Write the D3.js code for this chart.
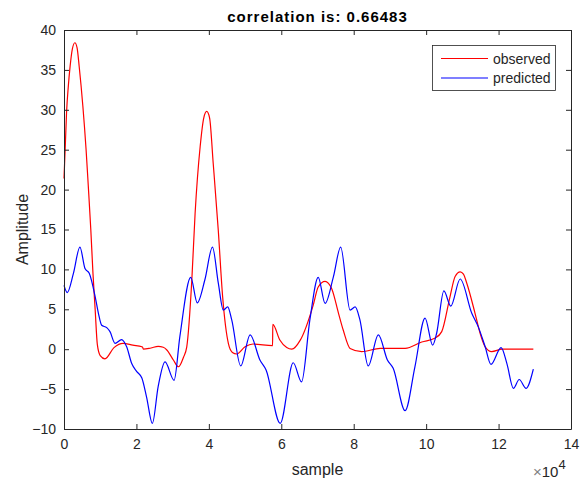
<!DOCTYPE html>
<html lang="en">
<head>
  <meta charset="UTF-8">
  <title>correlation</title>
  <style>
    body { margin: 0; background: #fff; }
    text { font-family: "Liberation Sans", Arial, sans-serif; fill: #262626; }
  </style>
</head>
<body>
  <svg id="chart" width="580" height="481"></svg>
<script src="https://cdn.jsdelivr.net/npm/d3@7"></script>
<script>
  // sample positions are in units of 1e4
  let observedX = [0, 0.04, 0.07, 0.12, 0.17, 0.23, 0.30, 0.36, 0.42, 0.52, 0.61, 0.67, 0.74, 0.80, 0.86, 0.92, 1.0, 1.13, 1.38, 1.63, 1.9, 2.15, 2.17, 2.19,
                   2.4, 2.6, 2.74, 2.84, 3.02, 3.16, 3.30, 3.39, 3.53, 3.62, 3.76, 3.86, 3.94, 4.02, 4.12, 4.26, 4.38, 4.54, 4.65, 4.77,
                   5.0, 5.22, 5.76, 5.765, 5.96, 6.15, 6.29, 6.52, 6.88, 7.02, 7.21, 7.39, 7.58, 7.71, 7.90, 8.22, 8.73, 9.42, 9.88,
                   10.25, 10.43, 10.66, 10.80, 10.94, 11.03, 11.12, 11.35, 11.49, 11.63, 11.81, 12.1, 12.96]
  let observedY = [21.4, 26, 29.6, 33, 35.5, 37.6, 38.4, 37.8, 35.4, 30.5, 25, 20.5, 15, 9.5, 5, 0.6, -0.8, -1.2, 0.2, 0.74, 0.5, 0.3, 0.25, 0.0,
                   0.15, 0.35, 0.24, -0.1, -1.35, -2.2, -1.0, 0.3, 8.7, 17, 25.4, 29.0, 29.8, 29.0, 23.3, 14.9, 6.6, 0.7, -0.4, -0.6,
                   0.3, 0.65, 0.45, 3.1, 1.15, 0.2, 0.0, 1.1, 5.5, 7.8, 8.5, 7.6, 4.5, 2.4, 0.1, -0.3, 0.1, 0.1, 0.9,
                   1.4, 2.2, 6.6, 9.1, 9.7, 9.4, 8.3, 4.5, 2.0, 0.3, -0.3, 0.0, 0.0]

  let predictedX = [0, 0.09, 0.26, 0.44, 0.58, 0.70, 0.86, 0.95, 1.04, 1.18, 1.27, 1.41, 1.59, 1.73, 1.87, 2.01, 2.15, 2.28, 2.44, 2.60, 2.79, 3.04,
                    3.20, 3.50, 3.68, 3.89, 4.10, 4.26, 4.40, 4.52, 4.63, 4.88, 5.14, 5.41, 5.58, 5.97, 6.33, 6.56, 6.79, 7.02, 7.21, 7.44,
                    7.64, 7.90, 8.04, 8.17, 8.40, 8.68, 8.93, 9.09, 9.42, 9.69, 9.97, 10.18, 10.29, 10.49, 10.68, 10.94, 11.26, 11.44, 11.63,
                    11.79, 12.07, 12.23, 12.41, 12.57, 12.76, 12.96]
  let predictedY = [8.0, 7.1, 9.5, 12.8, 10.1, 9.5, 6.6, 4.5, 3.0, 2.7, 2.2, 0.74, 1.2, 0.3, -1.8, -2.8, -3.6, -6, -9.3, -4.7, -1.6, -3.9,
                    1.6, 9.0, 5.8, 8.7, 12.8, 8.3, 4.9, 5.3, 3.7, -2.1, 1.8, -1.35, -2.6, -9.3, -1.7, -4.1, 3.7, 9.0, 5.75, 9.1,
                    12.8, 4.9, 5.3, 3.7, -2.1, 1.8, -1.35, -2.4, -7.7, -2.2, 3.9, 0.5, 2.0, 7.3, 5.4, 8.8, 4.5, 2.8, 0.3,
                    -1.9, 0.2, -1.8, -4.9, -3.8, -4.9, -2.5]

  let xTicks = [0, 2, 4, 6, 8, 10, 12, 14]
  let yTicks = [-10, -5, 0, 5, 10, 15, 20, 25, 30, 35, 40]

  let svg = d3.select("#chart")
  let plotLeft = 64, plotRight = 571, plotTop = 30, plotBottom = 429

  let x = d3.scaleLinear().domain([0, 14]).range([plotLeft, plotRight])
  let y = d3.scaleLinear().domain([-10, 40]).range([plotBottom, plotTop])

  let observed = observedX.map((v, i) => [v, observedY[i]])
  let predicted = predictedX.map((v, i) => [v, predictedY[i]])

  let line = d3.line()
               .x(d => x(d[0]))
               .y(d => y(d[1]))
               .curve(d3.curveMonotoneX)

  svg.append("path")
     .attr("d", line(observed))
     .attr("fill", "none")
     .attr("stroke", "#ff0000")
     .attr("stroke-width", 1.2)

  svg.append("path")
     .attr("d", line(predicted))
     .attr("fill", "none")
     .attr("stroke", "#0000ff")
     .attr("stroke-width", 1.2)

  // axes, ticks inward on all four sides
  let axisColor = "#262626"
  svg.append("g").attr("transform", `translate(0,${plotBottom})`)
     .call(d3.axisBottom(x).tickValues(xTicks).tickSizeInner(-5).tickSizeOuter(0).tickPadding(10))
  svg.append("g").attr("transform", `translate(0,${plotTop})`)
     .call(d3.axisTop(x).tickValues(xTicks).tickSizeInner(-5).tickSizeOuter(0).tickFormat(""))
  svg.append("g").attr("transform", `translate(${plotLeft},0)`)
     .call(d3.axisLeft(y).tickValues(yTicks).tickSizeInner(-5).tickSizeOuter(0).tickPadding(8))
  svg.append("g").attr("transform", `translate(${plotRight},0)`)
     .call(d3.axisRight(y).tickValues(yTicks).tickSizeInner(-5).tickSizeOuter(0).tickFormat(""))

  svg.selectAll(".domain, .tick line").attr("stroke", axisColor)
  svg.selectAll(".tick text").attr("font-size", 14).attr("fill", axisColor)
     .style("font-family", "'Liberation Sans', Arial, sans-serif")

  // title and labels
  svg.append("text")
     .attr("x", (plotLeft + plotRight) / 2).attr("y", 22)
     .attr("text-anchor", "middle")
     .attr("font-size", 15).attr("font-weight", "bold")
     .attr("letter-spacing", 1)
     .style("fill", "#000")
     .text("correlation is: 0.66483")

  svg.append("text")
     .attr("x", (plotLeft + plotRight) / 2).attr("y", 475)
     .attr("text-anchor", "middle")
     .attr("font-size", 16)
     .text("sample")

  svg.append("text")
     .attr("transform", `translate(28,${(plotTop + plotBottom) / 2}) rotate(-90)`)
     .attr("text-anchor", "middle")
     .attr("font-size", 16)
     .text("Amplitude")

  let expo = svg.append("text")
                .attr("x", 533).attr("y", 477)
                .attr("font-size", 15)
  expo.append("tspan").style("fill", "#808080").text("\u00d7")
  expo.append("tspan").text("10")
  expo.append("tspan").attr("dy", -8).attr("font-size", 13).text("4")

  // legend
  let legend = svg.append("g")
  legend.append("rect")
        .attr("x", 432.5).attr("y", 45.5)
        .attr("width", 123).attr("height", 45)
        .attr("fill", "#fff")
        .attr("stroke", axisColor)
        .attr("stroke-width", 0.8)

  let entries = [["observed", "#ff0000"], ["predicted", "#0000ff"]]
  entries.forEach((e, i) => {
    let ly = 58.5 + i * 19.5
    legend.append("line")
          .attr("x1", 441).attr("x2", 488)
          .attr("y1", ly).attr("y2", ly)
          .attr("stroke", e[1])
          .attr("stroke-width", 1.2)
    legend.append("text")
          .attr("x", 493).attr("y", ly + 5)
          .attr("font-size", 14)
          .text(e[0])
  })
</script>
</body>
</html>
